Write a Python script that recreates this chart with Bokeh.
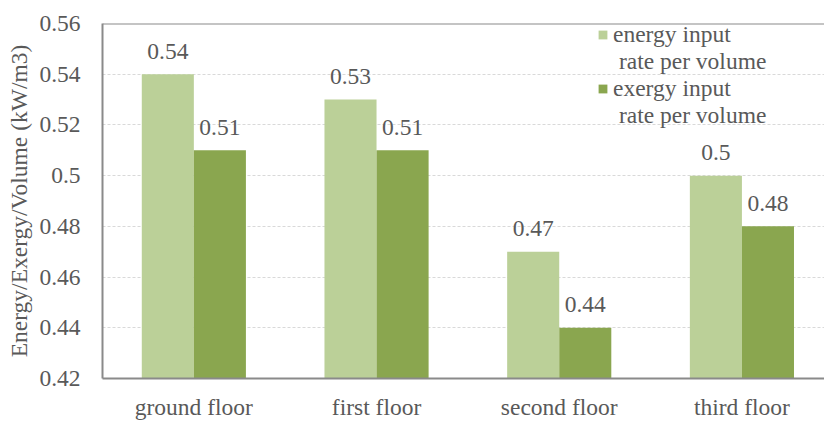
from bokeh.plotting import figure
from bokeh.models import (Range1d, FixedTicker, Span, Legend, LegendItem, ColumnDataSource)
from bokeh.core.properties import value
from bokeh.embed import file_html
from bokeh.resources import INLINE

categories = ["ground floor", "first floor", "second floor", "third floor"]
energy = [0.54, 0.53, 0.47, 0.50]
exergy = [0.51, 0.51, 0.44, 0.48]
y_ticks = [0.42, 0.44, 0.46, 0.48, 0.50, 0.52, 0.54, 0.56]
series_first = ["energy input", "exergy input"]
series_second = ["rate per volume", "rate per volume"]

FONT = "Liberation Serif"
FS = "23.5px"
TXT = "#595959"
AX = "#8a8a8a"
LIGHT = "#bbd098"
DARK = "#8aa64f"

n = len(categories)
bw = 0.285
centers = [i + 0.5 for i in range(n)]

p = figure(width=824, height=422, output_backend="svg", toolbar_location=None,
           x_range=Range1d(0, 3.952), y_range=Range1d(0.42, 0.56),
           min_border_left=102, min_border_right=0, min_border_top=23, min_border_bottom=40)
p.outline_line_color = None
p.background_fill_color = "white"
p.border_fill_color = "white"

src_e = ColumnDataSource(dict(x=[c - bw / 2 for c in centers], top=energy,
                              lab=[f"{v:g}" for v in energy]))
src_x = ColumnDataSource(dict(x=[c + bw / 2 for c in centers], top=exergy,
                              lab=[f"{v:g}" for v in exergy]))

r1 = p.vbar(x="x", top="top", bottom=0.42, width=bw, source=src_e,
            fill_color=LIGHT, line_color=None)
r2 = p.vbar(x="x", top="top", bottom=0.42, width=bw, source=src_x,
            fill_color=DARK, line_color=None)
# invisible renderer for the wrapped second line of each legend entry
r_blank = p.scatter(x=[], y=[], marker="square", fill_alpha=0, line_alpha=0)

for src in (src_e, src_x):
    p.text(x="x", y="top", text="lab", source=src, text_align="center",
           text_baseline="alphabetic", y_offset=-23,
           text_font=value(FONT), text_font_size=FS, text_color=TXT)

# axes
p.xaxis.ticker = FixedTicker(ticks=centers)
p.xaxis.major_label_overrides = {c: name for c, name in zip(centers, categories)}
p.yaxis.ticker = FixedTicker(ticks=y_ticks)
p.yaxis.major_label_overrides = {t: f"{t:g}" for t in y_ticks}
p.yaxis.axis_label = "Energy/Exergy/Volume (kW/m3)"

for ax in (p.xaxis[0], p.yaxis[0]):
    ax.major_tick_line_color = None
    ax.minor_tick_line_color = None
    ax.axis_line_color = AX
    ax.axis_line_width = 2
    ax.major_label_text_font = FONT
    ax.major_label_text_font_size = FS
    ax.major_label_text_color = TXT
    ax.axis_label_text_font = FONT
    ax.axis_label_text_font_size = FS
    ax.axis_label_text_color = TXT
    ax.axis_label_text_font_style = "normal"
p.yaxis.major_label_standoff = 16
p.yaxis.axis_label_standoff = 4
p.xaxis.major_label_standoff = 9

p.xgrid.grid_line_color = None
p.ygrid.ticker = FixedTicker(ticks=y_ticks)
p.ygrid.grid_line_color = "#d9d9d9"
p.ygrid.grid_line_dash = "3 2"
p.ygrid.grid_line_width = 1

p.add_layout(Span(location=0.56, dimension="width", line_color=AX, line_width=2))

legend = Legend(items=[LegendItem(label=series_first[0], renderers=[r1]),
                       LegendItem(label="\u00a0" + series_second[0], renderers=[r_blank]),
                       LegendItem(label=series_first[1], renderers=[r2]),
                       LegendItem(label="\u00a0" + series_second[1], renderers=[r_blank])],
                location=(495, 249), orientation="vertical",
                glyph_width=11, glyph_height=11, label_standoff=5,
                padding=0, margin=0, spacing=-3, label_height=20,
                border_line_color=None, background_fill_alpha=0,
                label_text_font=FONT, label_text_font_size=FS,
                label_text_color=TXT)
p.add_layout(legend)

open("out.html", "w").write(file_html(p, INLINE))
